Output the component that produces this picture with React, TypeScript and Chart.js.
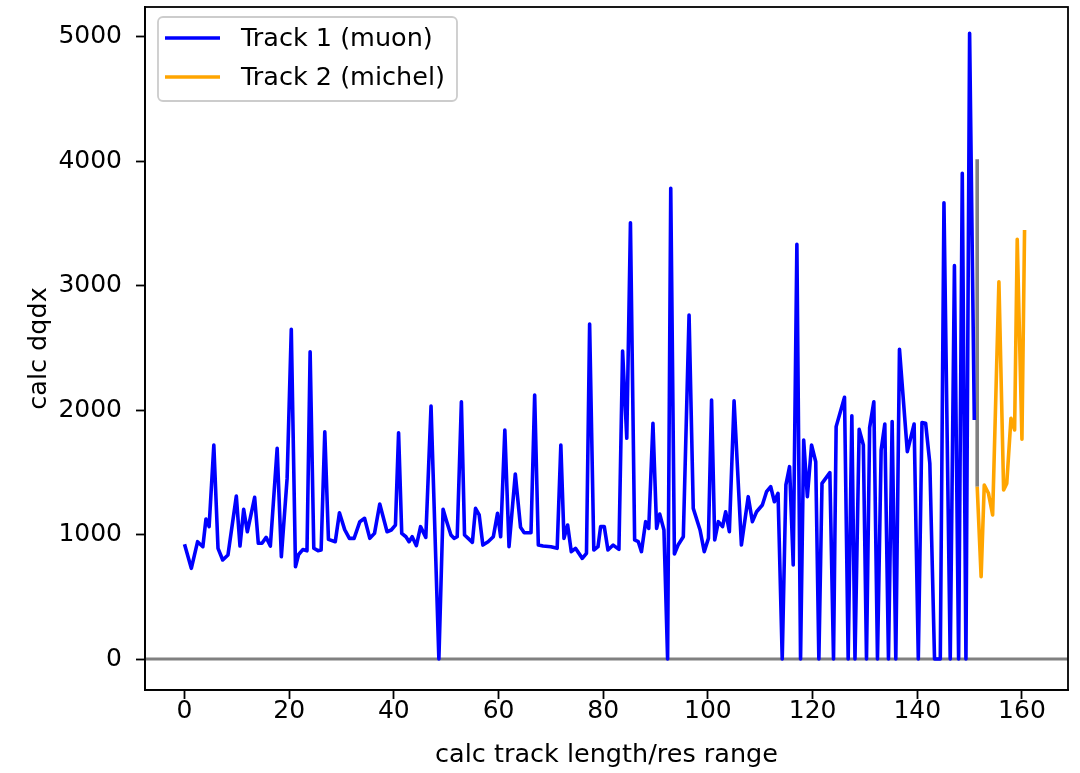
import React, { useEffect, useRef } from "react";
import { Chart, registerables } from "chart.js";

Chart.register(...registerables);

// ---- data ----
const muonX = [
  0.0, 1.3, 2.5, 3.5, 4.1, 4.7, 5.6, 6.4, 7.3, 8.3, 9.9, 10.6, 11.3, 12.0, 13.4, 14.1, 14.8, 15.6, 16.4, 17.7,
  18.5, 19.6, 20.4, 21.2, 21.8, 22.6, 23.4, 24.0, 24.7, 25.5, 26.1, 26.8, 27.5, 28.8, 29.6, 30.6, 31.5, 32.4,
  33.5, 34.4, 35.4, 36.3, 37.3, 38.7, 39.5, 40.3, 40.9, 41.5, 42.3, 42.9, 43.5, 44.3, 45.1, 46.1, 47.1, 48.6,
  49.4, 50.0, 50.9, 51.5, 52.1, 52.9, 53.5, 54.2, 55.0, 55.6, 56.3, 57.0, 58.0, 59.0, 59.8, 60.4, 61.2, 62.0,
  63.2, 64.2, 64.9, 66.2, 66.9, 67.6, 68.5, 70.0, 71.2, 71.9, 72.5, 73.2, 73.9, 74.7, 76.0, 76.8, 77.4, 78.2,
  79.0, 79.5, 80.2, 80.9, 81.9, 83.0, 83.7, 84.5, 85.2, 86.0, 86.7, 87.3, 88.1, 88.7, 89.5, 90.2, 90.8, 91.6,
  92.3, 92.9, 93.6, 94.3, 95.3, 96.4, 97.2, 98.5, 99.3, 100.1, 100.7, 101.3, 102.0, 102.8, 103.4, 104.1, 105.0,
  106.4, 107.7, 108.5, 109.3, 110.4, 111.2, 112.0, 112.7, 113.4, 114.2, 114.9, 115.6, 116.3, 117.0, 117.7,
  118.3, 119.0, 119.8, 120.6, 121.2, 121.8, 123.3, 124.0, 124.5, 126.1, 126.8, 127.5, 128.1, 128.9, 129.7,
  130.3, 130.9, 131.7, 132.4, 133.1, 133.8, 134.5, 135.2, 135.9, 136.6, 138.1, 139.4, 140.2, 140.9, 141.6,
  142.4, 143.3, 144.4, 145.1, 146.3, 147.1, 147.9, 148.6, 149.3, 150.0, 150.9,
];
const muonY = [
  922, 729, 943, 903, 1125, 1064, 1720, 890, 796, 836, 1310, 908, 1203, 1023, 1300, 930, 930, 978, 908, 1694,
  822, 1450, 2650, 742, 840, 880, 870, 2470, 890, 871, 876, 1827, 962, 943, 1176, 1040, 970, 970,
  1104, 1131, 970, 1010, 1246, 1023, 1037, 1077, 1819, 1010, 983, 943, 983, 911, 1064, 978, 2034, 0,
  1203, 1117, 997, 970, 983, 2068, 997, 970, 938, 1211, 1158, 916, 943, 983, 1171, 983, 1841, 903,
  1487, 1059, 1015, 1015, 2122, 916, 908, 903, 890, 1720, 970, 1077, 863, 890, 809, 850, 2693, 876,
  903, 1064, 1064, 876, 916, 881, 2476, 1774, 3507, 957, 943, 863, 1104, 1050, 1894, 1050, 1165, 1037,
  0, 3783, 844, 916, 983, 2765, 1211, 1037, 863, 970, 2082, 957, 1104, 1064, 1184, 1023, 2076,
  916, 1305, 1104, 1184, 1238, 1345, 1385, 1264, 1332, 0, 1399, 1546, 756, 3334, 0,
  1760, 1305, 1720, 1586, 0, 1412, 1498, 0, 1868, 2104, 0, 1956, 0, 1846, 1720,
  0, 1860, 2068, 0, 1680, 1889, 0, 1908, 0, 2490, 1667, 1889, 0, 1900, 1895,
  1573, 0, 0, 3668, 0, 3162, 0, 3904, 0, 5030, 1921,
];
const michelX = [151.45, 152.2, 152.8, 153.6, 154.4, 155.6, 156.5, 157.1, 157.9, 158.6, 159.1, 160.0, 160.5];
const michelY = [1385, 662, 1399, 1332, 1158, 3033, 1359, 1412, 1935, 1841, 3374, 1766, 3449];
const markerX = [151.45, 151.45];
const markerY = [1385, 4017];

const seriesLabels = ["Track 1 (muon)", "Track 2 (michel)"];
const xTicks = [0, 20, 40, 60, 80, 100, 120, 140, 160];
const yTicks = [0, 1000, 2000, 3000, 4000, 5000];
const xTitle = "calc track length/res range";
const yTitle = "calc dqdx";

const FONT = "'DejaVu Sans', sans-serif";
const FS = 25.5;
const TFS = 25;
const LW = 3.6;

const toPts = (xs: number[], ys: number[]) => xs.map((x, i) => ({ x, y: ys[i] }));

const framePlugin = {
  id: "frame",
  afterDraw(chart: any) {
    const { ctx, chartArea: a } = chart;
    ctx.save();
    ctx.strokeStyle = "#000";
    ctx.lineWidth = 1.8;
    ctx.strokeRect(a.left, a.top, a.right - a.left, a.bottom - a.top);
    ctx.restore();
  },
};

const zeroLinePlugin = {
  id: "zeroLine",
  beforeDatasetsDraw(chart: any) {
    const { ctx, chartArea: a } = chart;
    const y = chart.scales.y.getPixelForValue(0);
    ctx.save();
    ctx.strokeStyle = "#808080";
    ctx.lineWidth = 2.8;
    ctx.beginPath();
    ctx.moveTo(a.left, y);
    ctx.lineTo(a.right, y);
    ctx.stroke();
    ctx.restore();
  },
};

const legendPlugin = {
  id: "innerLegend",
  afterDraw(chart: any) {
    const { ctx, chartArea: a } = chart;
    const items = chart.data.datasets.filter((d: any) => d.label);
    const bx = a.left + 13;
    const by = a.top + 10;
    const bw = 299;
    const bh = 84;
    ctx.save();
    ctx.fillStyle = "rgba(255,255,255,0.8)";
    ctx.strokeStyle = "#cccccc";
    ctx.lineWidth = 1.8;
    ctx.beginPath();
    (ctx as any).roundRect(bx, by, bw, bh, 5);
    ctx.fill();
    ctx.stroke();
    ctx.font = `${FS}px ${FONT}`;
    ctx.textBaseline = "middle";
    ctx.textAlign = "left";
    items.forEach((d: any, i: number) => {
      const y = by + 21 + i * 39;
      ctx.strokeStyle = d.borderColor;
      ctx.lineWidth = LW;
      ctx.beginPath();
      ctx.moveTo(bx + 7, y);
      ctx.lineTo(bx + 62, y);
      ctx.stroke();
      ctx.fillStyle = "#000";
      ctx.fillText(d.label, bx + 83, y + 1);
    });
    ctx.restore();
  },
};

export default function App() {
  const ref = useRef<HTMLCanvasElement | null>(null);

  useEffect(() => {
    if (!ref.current) return;
    const chart = new Chart(ref.current, {
      type: "line",
      data: {
        datasets: [
          {
            label: seriesLabels[0],
            data: toPts(muonX, muonY),
            borderColor: "#0000ff",
            borderWidth: LW,
            pointRadius: 0,
            tension: 0,
            fill: false,
            borderJoinStyle: "round",
            order: 2,
          },
          {
            label: seriesLabels[1],
            data: toPts(michelX, michelY),
            borderColor: "#ffa500",
            borderWidth: LW,
            pointRadius: 0,
            tension: 0,
            fill: false,
            borderJoinStyle: "round",
            order: 1,
          },
          {
            label: "",
            data: toPts(markerX, markerY),
            borderColor: "#808080",
            borderWidth: LW,
            pointRadius: 0,
            fill: false,
            order: 3,
          },
        ],
      },
      options: {
        responsive: false,
        animation: false,
        devicePixelRatio: 1,
        layout: { padding: { left: 0, top: 7, right: 12, bottom: 0 } },
        plugins: {
          legend: { display: false },
          tooltip: { enabled: false },
        },
        scales: {
          x: {
            type: "linear",
            min: -7.55,
            max: 168.8,
            afterFit: (s: any) => {
              s.height = 83;
              s.paddingLeft = 0;
              s.paddingRight = 0;
            },
            afterBuildTicks: (s: any) => {
              s.ticks = xTicks.map((v) => ({ value: v }));
            },
            grid: { drawOnChartArea: false, drawTicks: true, tickLength: 9, tickColor: "#000", tickWidth: 1.8 },
            border: { display: true, color: "#000", width: 1.8 },
            ticks: {
              color: "#000",
              font: { family: FONT, size: TFS },
              padding: -3,
              maxRotation: 0,
              autoSkip: false,
              callback: (v: any) => String(v),
            },
            title: {
              display: true,
              text: xTitle,
              color: "#000",
              font: { family: FONT, size: FS },
              padding: { top: 0, bottom: 2 },
            },
          },
          y: {
            type: "linear",
            min: -249,
            max: 5241,
            afterFit: (s: any) => {
              s.width = 145;
              s.paddingTop = 0;
              s.paddingBottom = 0;
            },
            afterBuildTicks: (s: any) => {
              s.ticks = yTicks.map((v) => ({ value: v }));
            },
            grid: { drawOnChartArea: false, drawTicks: true, tickLength: 9, tickColor: "#000", tickWidth: 1.8 },
            border: { display: true, color: "#000", width: 1.8 },
            ticks: {
              color: "#000",
              font: { family: FONT, size: TFS },
              padding: 14,
              autoSkip: false,
              callback: (v: any) => String(v),
            },
            title: {
              display: true,
              text: yTitle,
              color: "#000",
              font: { family: FONT, size: FS },
              padding: { top: 24, bottom: 0 },
            },
          },
        },
      },
      plugins: [zeroLinePlugin, framePlugin, legendPlugin],
    } as any);
    return () => chart.destroy();
  }, []);

  return (
    <div style={{ position: "fixed", left: 0, top: 0, width: 1080, height: 773, background: "#fff" }}>
      <canvas ref={ref} width={1080} height={773} style={{ width: 1080, height: 773, display: "block" }} />
    </div>
  );
}
